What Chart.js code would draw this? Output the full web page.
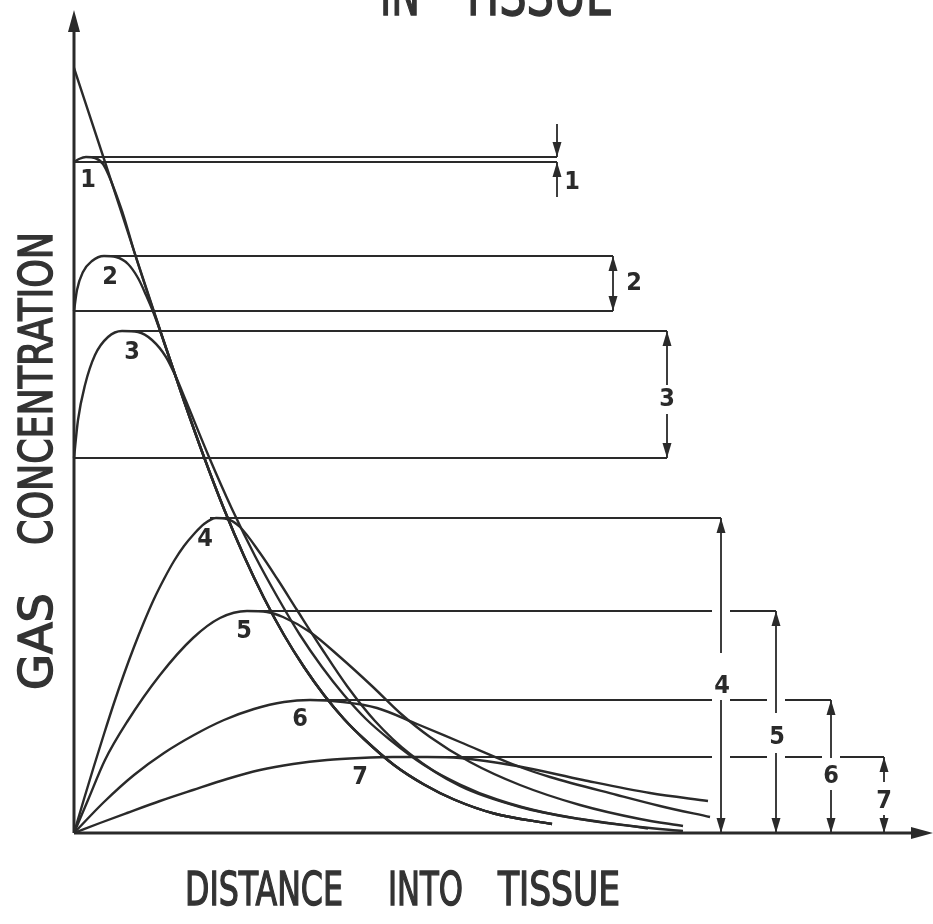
<!DOCTYPE html>
<html>
<head>
<meta charset="utf-8">
<script src="https://cdn.jsdelivr.net/npm/chart.js@4.4.1/dist/chart.umd.min.js"></script>
<style>
  body { margin: 0; background: #fff; }
  #wrap { width: 933px; height: 924px; }
</style>
</head>
<body>
<div id="wrap"><canvas id="gas_chart"></canvas></div>
<script>
// distance into tissue (x) and gas concentration (y), arbitrary units
var curve0 = [[0,76.5],[3,67.4],[6,58.2],[9,49.1],[11,43.2],[13,37.6],[15,32.4],[17,27.7],[19,23.5],[21,19.8],[23,16.6],[25,13.8],[27,11.4],[29,9.4],[32,6.8],[35,4.85],[38,3.35],[42,1.95],[47.8,0.9]];
// curves 1 and 2 run into the initial profile and follow it from there
var curve1 = [[0,67.1],[0.5,67.4],[1.2,67.6],[2.1,67.5],[2.9,66.9],[3.5,65.7],[4.2,63.9],[5.0,61.6]].concat(curve0.slice(2));
var curve2 = [[0,52.2],[0.3,54.3],[0.9,56.1],[1.8,57.2],[3.0,57.7],[4.2,57.6],[5.4,56.9],[6.4,55.5],[7.2,53.8],[8.0,51.9]].concat(curve0.slice(3));
var curve3 = [[0,37.5],[0.4,41.3],[1.1,44.8],[2.1,47.8],[3.4,49.6],[4.8,50.2],[6.4,50.1],[7.8,49.3],[9.2,47.6],[10.2,45.6],[11.2,43.2],[13.5,37.6],[15.8,32.4],[18.1,27.7],[20.4,23.5],[22.6,19.8],[24.8,16.6],[27.0,13.8],[29.2,11.4],[31.5,9.4],[35.0,6.8],[38.6,4.85],[42.3,3.35],[47.5,1.95],[57.4,0.45]];
var curve4 = [[0,0],[1,3.4],[2,6.7],[3,9.9],[4,13.0],[5,15.9],[6,18.6],[7,21.1],[8,23.4],[9,25.4],[10,27.2],[11,28.7],[12,29.9],[13,30.9],[14.2,31.5],[15.3,31.4],[16.6,30.6],[18.6,28.0],[20.4,25.3],[22.3,22.3],[24.8,18.4],[27.3,14.7],[30.1,11.2],[33.6,7.9],[38.6,4.7],[44.6,2.6],[50.6,1.4],[56.6,0.6],[60.9,0.2]];
var curve5 = [[0,0],[1.4,3.3],[3.1,7.3],[5.3,11.1],[8.6,15.8],[11.9,19.5],[14.6,21.5],[17.3,22.2],[19.3,22.1],[20.9,21.6],[23.6,20.1],[26.6,17.6],[29.9,14.6],[32.6,12.0],[35.6,9.6],[39.6,7.1],[44.6,4.8],[50.6,2.8],[56.6,1.4],[60.9,0.7]];
var curve6 = [[0,0],[3,3.1],[6,5.8],[9,8.0],[12,9.8],[15,11.3],[18,12.4],[21,13.1],[23.6,13.3],[26.9,13.1],[30.3,12.5],[34.3,10.9],[38.6,9.1],[44.6,6.6],[47.6,5.6],[54.3,3.8],[58.6,2.7],[63.6,1.6]];
var curve7 = [[0,0],[2.6,1.0],[5.3,2.0],[8.6,3.2],[11.9,4.3],[15.3,5.4],[18.6,6.3],[21.9,6.9],[25.3,7.3],[28.6,7.5],[31.9,7.6],[35.3,7.6],[38.6,7.5],[44.3,6.7],[50.9,5.3],[57.6,4.0],[63.4,3.2]];

// dimension lines: peak level of each curve against its surface level
var dimNames = ['1','2','3','4','5','6','7'];
var peakLevel = [67.6, 57.7, 50.2, 31.5, 22.2, 13.3, 7.6];
var surfaceLevel = [67.1, 52.2, 37.5, 0, 0, 0, 0];
var peakFrom = [1.2, 3.0, 4.8, 13.6, 17.3, 23.6, 31.9];
var dimAt = [48.3, 53.9, 59.3, 64.7, 70.2, 75.7, 81.0];
// break in the dimension line where its number sits
var gapTop = [null, null, 44.8, 18.0, 12.0, 7.5, 5.1];
var gapBottom = [null, null, 41.9, 13.3, 8.0, 4.3, 1.8];
var dimLabelX = [49.8, 56.0, 59.3, 64.8, 70.3, 75.7, 81.0];
var dimLabelY = [65.1, 55.0, 43.4, 14.7, 9.6, 5.7, 3.2];
// numbers written next to the curves
var curveLabelX = [1.4, 3.6, 5.8, 13.1, 17.0, 22.6, 28.6];
var curveLabelY = [65.3, 55.6, 48.1, 29.4, 20.2, 11.4, 5.6];

var INK = '#2a2a2a';

function pts(list) {
    return list.map(function (p) { return { x: p[0], y: p[1] }; });
}

function curve(list) {
    return {
        data: pts(list),
        borderColor: INK,
        borderWidth: 2.4,
        pointRadius: 0,
        cubicInterpolationMode: 'monotone',
        fill: false,
        clip: false
    };
}

function straight(data, width) {
    return {
        data: data,
        borderColor: INK,
        borderWidth: width || 2,
        pointRadius: 0,
        tension: 0,
        spanGaps: false,
        fill: false,
        clip: false
    };
}

var datasets = [curve0, curve1, curve2, curve3, curve4, curve5, curve6, curve7].map(curve);

// axes
datasets.push(straight([{ x: 0, y: 0 }, { x: 0, y: 81.5 }], 3));
datasets.push(straight([{ x: 0, y: 0 }, { x: 85, y: 0 }], 3));

for (var i = 0; i < 7; i++) {
    var d = dimAt[i];
    // peak level line, broken where it crosses earlier dimension lines
    var h = [{ x: peakFrom[i], y: peakLevel[i] }];
    dimAt.slice(3, i).forEach(function (c) {
        h.push({ x: c - 0.9, y: peakLevel[i] });
        h.push({ x: c, y: null });
        h.push({ x: c + 0.9, y: peakLevel[i] });
    });
    h.push({ x: d, y: peakLevel[i] });
    datasets.push(straight(h));

    // surface level line for the curves that start above zero
    if (surfaceLevel[i] > 0) {
        datasets.push(straight([{ x: 0, y: surfaceLevel[i] }, { x: d, y: surfaceLevel[i] }]));
    }

    var v;
    if (i === 0) {
        // arrows coming in from outside for the tiny first difference
        v = [{ x: d, y: 70.9 }, { x: d, y: peakLevel[i] }, { x: d, y: null },
             { x: d, y: surfaceLevel[i] }, { x: d, y: 63.6 }];
    } else if (gapTop[i] !== null) {
        v = [{ x: d, y: peakLevel[i] }, { x: d, y: gapTop[i] }, { x: d, y: null },
             { x: d, y: gapBottom[i] }, { x: d, y: surfaceLevel[i] }];
    } else {
        v = [{ x: d, y: peakLevel[i] }, { x: d, y: surfaceLevel[i] }];
    }
    datasets.push(straight(v, 1.8));
}

function head(ctx, px, py, angle, len, half) {
    ctx.save();
    ctx.translate(px, py);
    ctx.rotate(angle);
    ctx.beginPath();
    ctx.moveTo(0, 0);
    ctx.lineTo(-len, -half);
    ctx.lineTo(-len, half);
    ctx.closePath();
    ctx.fill();
    ctx.restore();
}

// squeeze a word into a given run, stroked a little for the stencil weight
function fitText(ctx, str, x0, x1, base) {
    var w = ctx.measureText(str).width;
    ctx.save();
    ctx.translate(x0, base);
    ctx.scale((x1 - x0) / w, 1);
    ctx.textAlign = 'left';
    ctx.textBaseline = 'alphabetic';
    ctx.fillText(str, 0, 0);
    ctx.strokeText(str, 0, 0);
    ctx.restore();
}

var drafting = {
    id: 'drafting',
    afterDatasetsDraw: function (chart) {
        var ctx = chart.ctx;
        var xs = chart.scales.x, ys = chart.scales.y;
        var UP = -Math.PI / 2, DOWN = Math.PI / 2;
        ctx.save();
        ctx.fillStyle = INK;

        // axis arrows
        head(ctx, xs.getPixelForValue(0), ys.getPixelForValue(82.3), UP, 22, 6);
        head(ctx, xs.getPixelForValue(85.9), ys.getPixelForValue(0), 0, 22, 6);

        // dimension arrows and numbers
        ctx.font = 'bold 25px "DejaVu Sans Condensed", "Liberation Sans Narrow", "DejaVu Sans", sans-serif';
        ctx.textAlign = 'center';
        ctx.textBaseline = 'middle';
        for (var k = 0; k < 7; k++) {
            var px = xs.getPixelForValue(dimAt[k]);
            var pTop = ys.getPixelForValue(peakLevel[k]);
            var pBot = ys.getPixelForValue(surfaceLevel[k]);
            if (k === 0) {
                head(ctx, px, pTop, DOWN, 15, 4.5);
                head(ctx, px, pBot, UP, 15, 4.5);
            } else {
                head(ctx, px, pTop, UP, 15, 4.5);
                head(ctx, px, pBot, DOWN, 15, 4.5);
            }
            ctx.fillText(dimNames[k], xs.getPixelForValue(dimLabelX[k]), ys.getPixelForValue(dimLabelY[k]));
            ctx.fillText(dimNames[k], xs.getPixelForValue(curveLabelX[k]), ys.getPixelForValue(curveLabelY[k]));
        }

        // titles in stencil lettering
        ctx.fillStyle = '#333';
        ctx.strokeStyle = '#333';
        ctx.lineWidth = 1.4;
        ctx.font = '47px "DejaVu Sans Condensed", "DejaVu Sans", sans-serif';
        fitText(ctx, 'DISTANCE', 185, 343, 905);
        fitText(ctx, 'INTO', 388, 463, 905);
        fitText(ctx, 'TISSUE', 498, 620, 905);

        ctx.save();
        ctx.translate(52, 690);
        ctx.rotate(-Math.PI / 2);
        fitText(ctx, 'GAS', 0, 97, 0);
        fitText(ctx, 'CONCENTRATION', 145, 458, 0);
        ctx.restore();

        ctx.font = '60px "DejaVu Sans Condensed", "DejaVu Sans", sans-serif';
        fitText(ctx, 'IN', 380, 420, 15);
        fitText(ctx, 'TISSUE', 460, 613, 15);

        ctx.restore();
    }
};

var gas_chart = new Chart(document.getElementById('gas_chart').getContext('2d'), {
    type: 'line',
    data: { datasets: datasets },
    options: {
        responsive: true,
        maintainAspectRatio: false,
        animation: false,
        events: [],
        layout: { padding: { left: 74, right: 9, top: 13, bottom: 91 } },
        scales: {
            x: { type: 'linear', min: 0, max: 85, display: false },
            y: { type: 'linear', min: 0, max: 82, display: false }
        },
        plugins: {
            legend: { display: false },
            tooltip: { enabled: false },
            title: { display: false }
        }
    },
    plugins: [drafting]
});
</script>
</body>
</html>
